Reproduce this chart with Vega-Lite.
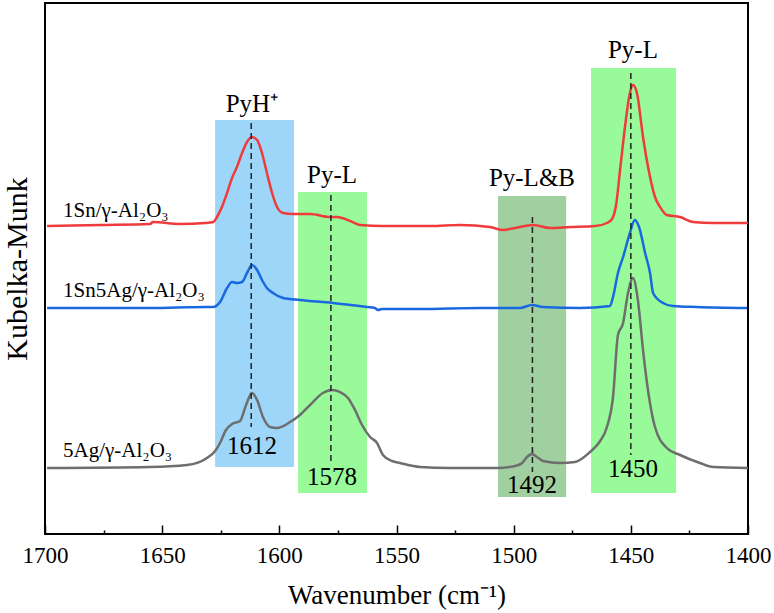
{
  "$schema": "https://vega.github.io/schema/vega-lite/v6.json",
  "width": 703,
  "height": 531,
  "autosize": "none",
  "padding": {"left": 45, "top": 3, "right": 26, "bottom": 79},
  "background": "white",
  "config": {
    "view": {"stroke": "black", "strokeWidth": 2},
    "font": "Liberation Serif, Times New Roman, serif",
    "text": {"font": "Liberation Serif, Times New Roman, serif"},
    "axis": {"grid": false, "labelFont": "Liberation Serif, Times New Roman, serif", "titleFont": "Liberation Serif, Times New Roman, serif", "titleFontWeight": "normal", "labelColor": "black", "titleColor": "black", "tickColor": "black", "domain": false}
  },
  "datasets": {
    "curves": [
      {"sample": "1Sn", "wn": 1699.1, "km": 308}, {"sample": "1Sn", "wn": 1676.5, "km": 309}, {"sample": "1Sn", "wn": 1655.2, "km": 310}, {"sample": "1Sn", "wn": 1653.9, "km": 312}, {"sample": "1Sn", "wn": 1642.4, "km": 310}, {"sample": "1Sn", "wn": 1631.7, "km": 311},
      {"sample": "1Sn", "wn": 1628.3, "km": 312}, {"sample": "1Sn", "wn": 1626.6, "km": 317}, {"sample": "1Sn", "wn": 1624.5, "km": 327}, {"sample": "1Sn", "wn": 1622.3, "km": 341}, {"sample": "1Sn", "wn": 1620.2, "km": 356}, {"sample": "1Sn", "wn": 1618.1, "km": 367}, {"sample": "1Sn", "wn": 1615.9, "km": 381}, {"sample": "1Sn", "wn": 1613.8, "km": 392}, {"sample": "1Sn", "wn": 1611.7, "km": 397}, {"sample": "1Sn", "wn": 1609.5, "km": 394}, {"sample": "1Sn", "wn": 1607.4, "km": 381}, {"sample": "1Sn", "wn": 1605.3, "km": 361}, {"sample": "1Sn", "wn": 1603.1, "km": 341}, {"sample": "1Sn", "wn": 1601.0, "km": 327}, {"sample": "1Sn", "wn": 1598.4, "km": 321}, {"sample": "1Sn", "wn": 1594.2, "km": 320}, {"sample": "1Sn", "wn": 1586.9, "km": 320}, {"sample": "1Sn", "wn": 1578.4, "km": 317}, {"sample": "1Sn", "wn": 1575.4, "km": 317}, {"sample": "1Sn", "wn": 1569.8, "km": 313}, {"sample": "1Sn", "wn": 1565.6, "km": 309}, {"sample": "1Sn", "wn": 1555.8, "km": 308},
      {"sample": "1Sn", "wn": 1535.7, "km": 308}, {"sample": "1Sn", "wn": 1522.9, "km": 309}, {"sample": "1Sn", "wn": 1510.1, "km": 307}, {"sample": "1Sn", "wn": 1504.5, "km": 304}, {"sample": "1Sn", "wn": 1499.4, "km": 306}, {"sample": "1Sn", "wn": 1491.7, "km": 309}, {"sample": "1Sn", "wn": 1484.5, "km": 306}, {"sample": "1Sn", "wn": 1475.9, "km": 307}, {"sample": "1Sn", "wn": 1465.3, "km": 308},
      {"sample": "1Sn", "wn": 1460.2, "km": 311}, {"sample": "1Sn", "wn": 1458.0, "km": 315}, {"sample": "1Sn", "wn": 1456.3, "km": 329}, {"sample": "1Sn", "wn": 1454.6, "km": 364}, {"sample": "1Sn", "wn": 1452.5, "km": 407}, {"sample": "1Sn", "wn": 1450.4, "km": 441}, {"sample": "1Sn", "wn": 1449.1, "km": 449}, {"sample": "1Sn", "wn": 1447.4, "km": 441}, {"sample": "1Sn", "wn": 1444.8, "km": 397}, {"sample": "1Sn", "wn": 1441.8, "km": 357}, {"sample": "1Sn", "wn": 1439.7, "km": 337}, {"sample": "1Sn", "wn": 1437.5, "km": 327}, {"sample": "1Sn", "wn": 1434.6, "km": 319}, {"sample": "1Sn", "wn": 1429.0, "km": 317}, {"sample": "1Sn", "wn": 1423.5, "km": 312}, {"sample": "1Sn", "wn": 1414.9, "km": 311}, {"sample": "1Sn", "wn": 1400.0, "km": 311},

      {"sample": "1Sn5Ag", "wn": 1699.1, "km": 226}, {"sample": "1Sn5Ag", "wn": 1655.2, "km": 226}, {"sample": "1Sn5Ag", "wn": 1631.7, "km": 227}, {"sample": "1Sn5Ag", "wn": 1628.3, "km": 227}, {"sample": "1Sn5Ag", "wn": 1625.3, "km": 232}, {"sample": "1Sn5Ag", "wn": 1622.3, "km": 246}, {"sample": "1Sn5Ag", "wn": 1620.2, "km": 252}, {"sample": "1Sn5Ag", "wn": 1618.1, "km": 251}, {"sample": "1Sn5Ag", "wn": 1615.9, "km": 252}, {"sample": "1Sn5Ag", "wn": 1613.8, "km": 261}, {"sample": "1Sn5Ag", "wn": 1611.7, "km": 269}, {"sample": "1Sn5Ag", "wn": 1609.5, "km": 264}, {"sample": "1Sn5Ag", "wn": 1607.4, "km": 254}, {"sample": "1Sn5Ag", "wn": 1605.3, "km": 246}, {"sample": "1Sn5Ag", "wn": 1602.7, "km": 241}, {"sample": "1Sn5Ag", "wn": 1598.4, "km": 236}, {"sample": "1Sn5Ag", "wn": 1591.2, "km": 234}, {"sample": "1Sn5Ag", "wn": 1577.1, "km": 231}, {"sample": "1Sn5Ag", "wn": 1562.6, "km": 227}, {"sample": "1Sn5Ag", "wn": 1559.2, "km": 226}, {"sample": "1Sn5Ag", "wn": 1557.9, "km": 224}, {"sample": "1Sn5Ag", "wn": 1556.2, "km": 225}, {"sample": "1Sn5Ag", "wn": 1548.5, "km": 225}, {"sample": "1Sn5Ag", "wn": 1540.0, "km": 225}, {"sample": "1Sn5Ag", "wn": 1514.4, "km": 226}, {"sample": "1Sn5Ag", "wn": 1497.3, "km": 226}, {"sample": "1Sn5Ag", "wn": 1492.2, "km": 229}, {"sample": "1Sn5Ag", "wn": 1487.5, "km": 227}, {"sample": "1Sn5Ag", "wn": 1471.7, "km": 226}, {"sample": "1Sn5Ag", "wn": 1458.9, "km": 228}, {"sample": "1Sn5Ag", "wn": 1457.6, "km": 237}, {"sample": "1Sn5Ag", "wn": 1455.5, "km": 261}, {"sample": "1Sn5Ag", "wn": 1453.3, "km": 277}, {"sample": "1Sn5Ag", "wn": 1450.4, "km": 301}, {"sample": "1Sn5Ag", "wn": 1448.3, "km": 314}, {"sample": "1Sn5Ag", "wn": 1446.5, "km": 307}, {"sample": "1Sn5Ag", "wn": 1443.9, "km": 281}, {"sample": "1Sn5Ag", "wn": 1441.8, "km": 261}, {"sample": "1Sn5Ag", "wn": 1440.5, "km": 241}, {"sample": "1Sn5Ag", "wn": 1436.3, "km": 231}, {"sample": "1Sn5Ag", "wn": 1432.0, "km": 228}, {"sample": "1Sn5Ag", "wn": 1421.8, "km": 227}, {"sample": "1Sn5Ag", "wn": 1400.4, "km": 226},

      {"sample": "5Ag", "wn": 1699.1, "km": 66}, {"sample": "5Ag", "wn": 1655.2, "km": 67}, {"sample": "5Ag", "wn": 1639.4, "km": 69}, {"sample": "5Ag", "wn": 1630.9, "km": 76}, {"sample": "5Ag", "wn": 1627.4, "km": 83}, {"sample": "5Ag", "wn": 1625.3, "km": 91}, {"sample": "5Ag", "wn": 1622.8, "km": 104}, {"sample": "5Ag", "wn": 1620.2, "km": 110}, {"sample": "5Ag", "wn": 1616.8, "km": 113}, {"sample": "5Ag", "wn": 1614.2, "km": 129}, {"sample": "5Ag", "wn": 1611.7, "km": 141}, {"sample": "5Ag", "wn": 1609.5, "km": 134}, {"sample": "5Ag", "wn": 1607.0, "km": 117}, {"sample": "5Ag", "wn": 1604.0, "km": 107}, {"sample": "5Ag", "wn": 1601.0, "km": 106}, {"sample": "5Ag", "wn": 1595.4, "km": 112}, {"sample": "5Ag", "wn": 1591.2, "km": 119}, {"sample": "5Ag", "wn": 1586.9, "km": 129}, {"sample": "5Ag", "wn": 1581.4, "km": 141}, {"sample": "5Ag", "wn": 1577.5, "km": 144}, {"sample": "5Ag", "wn": 1574.1, "km": 142}, {"sample": "5Ag", "wn": 1570.7, "km": 136}, {"sample": "5Ag", "wn": 1567.7, "km": 124}, {"sample": "5Ag", "wn": 1564.7, "km": 109}, {"sample": "5Ag", "wn": 1561.3, "km": 97}, {"sample": "5Ag", "wn": 1558.3, "km": 91}, {"sample": "5Ag", "wn": 1555.8, "km": 79}, {"sample": "5Ag", "wn": 1551.9, "km": 73}, {"sample": "5Ag", "wn": 1548.5, "km": 71}, {"sample": "5Ag", "wn": 1540.0, "km": 67}, {"sample": "5Ag", "wn": 1527.2, "km": 66}, {"sample": "5Ag", "wn": 1507.1, "km": 66}, {"sample": "5Ag", "wn": 1499.4, "km": 68}, {"sample": "5Ag", "wn": 1496.4, "km": 71}, {"sample": "5Ag", "wn": 1494.3, "km": 77}, {"sample": "5Ag", "wn": 1492.2, "km": 80}, {"sample": "5Ag", "wn": 1490.1, "km": 77}, {"sample": "5Ag", "wn": 1487.5, "km": 73}, {"sample": "5Ag", "wn": 1480.2, "km": 71}, {"sample": "5Ag", "wn": 1473.8, "km": 72}, {"sample": "5Ag", "wn": 1467.4, "km": 82}, {"sample": "5Ag", "wn": 1463.1, "km": 93}, {"sample": "5Ag", "wn": 1460.2, "km": 107}, {"sample": "5Ag", "wn": 1457.6, "km": 137}, {"sample": "5Ag", "wn": 1455.5, "km": 199}, {"sample": "5Ag", "wn": 1453.3, "km": 211}, {"sample": "5Ag", "wn": 1451.2, "km": 241}, {"sample": "5Ag", "wn": 1449.1, "km": 256}, {"sample": "5Ag", "wn": 1447.0, "km": 234}, {"sample": "5Ag", "wn": 1444.8, "km": 184}, {"sample": "5Ag", "wn": 1443.1, "km": 151}, {"sample": "5Ag", "wn": 1439.7, "km": 107}, {"sample": "5Ag", "wn": 1434.6, "km": 86}, {"sample": "5Ag", "wn": 1429.0, "km": 79}, {"sample": "5Ag", "wn": 1420.5, "km": 71}, {"sample": "5Ag", "wn": 1414.9, "km": 67}, {"sample": "5Ag", "wn": 1400.0, "km": 66}
    ],
    "bands": [
      {"kind": "PyH", "start": 1627.4, "end": 1593.7, "top": 414, "bottom": 67},
      {"kind": "L", "start": 1592.0, "end": 1562.6, "top": 342, "bottom": 41},
      {"kind": "LB", "start": 1506.7, "end": 1477.6, "top": 338, "bottom": 37},
      {"kind": "L", "start": 1467.0, "end": 1430.7, "top": 466, "bottom": 41}
    ],
    "peaks": [
      {"wn": 1612, "top": 411, "bottom": 107},
      {"wn": 1578, "top": 339, "bottom": 71},
      {"wn": 1492, "top": 317, "bottom": 62},
      {"wn": 1450, "top": 461, "bottom": 79}
    ],
    "notes": [
      {"wn": 1611.7, "km": 422, "label": "PyH⁺"},
      {"wn": 1577.5, "km": 351, "label": "Py-L"},
      {"wn": 1492.2, "km": 348, "label": "Py-L&B"},
      {"wn": 1449.1, "km": 476, "label": "Py-L"},
      {"wn": 1611.7, "km": 80, "label": "1612"},
      {"wn": 1577.5, "km": 49, "label": "1578"},
      {"wn": 1492.2, "km": 41, "label": "1492"},
      {"wn": 1449.1, "km": 57, "label": "1450"}
    ],
    "samples": [
      {"wn": 1692.3, "km": 317, "label": "1Sn/γ-Al₂O₃"},
      {"wn": 1692.3, "km": 237, "label": "1Sn5Ag/γ-Al₂O₃"},
      {"wn": 1692.3, "km": 77, "label": "5Ag/γ-Al₂O₃"}
    ]
  },
  "resolve": {"axis": {"x": "independent", "y": "independent"}, "scale": {"color": "independent"}},
  "layer": [
    {
      "data": {"name": "bands"},
      "mark": {"type": "rect"},
      "encoding": {
        "x": {"field": "start", "type": "quantitative", "scale": {"domain": [1400, 1700], "reverse": true, "nice": false}, "axis": null},
        "x2": {"field": "end"},
        "y": {"field": "top", "type": "quantitative", "scale": {"domain": [0, 531], "nice": false, "zero": false}, "axis": null},
        "y2": {"field": "bottom"},
        "color": {"field": "kind", "type": "nominal", "legend": null, "scale": {"domain": ["PyH", "L", "LB"], "range": ["#9dd6f8", "#98fa98", "#a0cfa0"]}}
      }
    },
    {
      "data": {"name": "curves"},
      "mark": {"type": "line", "strokeWidth": 2.5, "interpolate": "monotone"},
      "encoding": {
        "x": {"field": "wn", "type": "quantitative", "axis": {"orient": "bottom", "values": [1700, 1650, 1600, 1550, 1500, 1450, 1400], "format": "d", "labelFontSize": 23, "tickSize": -9, "tickWidth": 1.5, "labelPadding": 19, "title": "Wavenumber (cm⁻¹)", "titleFontSize": 27, "titlePadding": 15, "labelFlush": false}},
        "y": {"field": "km", "type": "quantitative", "axis": {"orient": "left", "title": "Kubelka-Munk", "titleFontSize": 30, "labels": false, "ticks": false, "titlePadding": 13}},
        "color": {"field": "sample", "type": "nominal", "legend": null, "scale": {"domain": ["1Sn", "1Sn5Ag", "5Ag"], "range": ["#ef3b3b", "#1a68e0", "#6e6e6e"]}},
        "order": {"field": "wn", "type": "quantitative", "sort": "descending"}
      }
    },
    {
      "data": {"name": "peaks"},
      "mark": {"type": "rule", "color": "#222222", "strokeWidth": 1.5, "strokeDash": [6, 4]},
      "encoding": {
        "x": {"field": "wn", "type": "quantitative", "axis": {"orient": "bottom", "values": [1675, 1625, 1575, 1525, 1475, 1425], "labels": false, "tickSize": -4, "tickWidth": 1.5, "title": null}},
        "y": {"field": "top", "type": "quantitative", "axis": null},
        "y2": {"field": "bottom"}
      }
    },
    {
      "data": {"name": "notes"},
      "mark": {"type": "text", "fontSize": 25, "align": "center", "baseline": "alphabetic", "color": "black"},
      "encoding": {
        "x": {"field": "wn", "type": "quantitative", "axis": null},
        "y": {"field": "km", "type": "quantitative", "axis": null},
        "text": {"field": "label"}
      }
    },
    {
      "data": {"name": "samples"},
      "mark": {"type": "text", "fontSize": 21, "align": "left", "baseline": "alphabetic", "color": "black"},
      "encoding": {
        "x": {"field": "wn", "type": "quantitative", "axis": null},
        "y": {"field": "km", "type": "quantitative", "axis": null},
        "text": {"field": "label"}
      }
    }
  ]
}
